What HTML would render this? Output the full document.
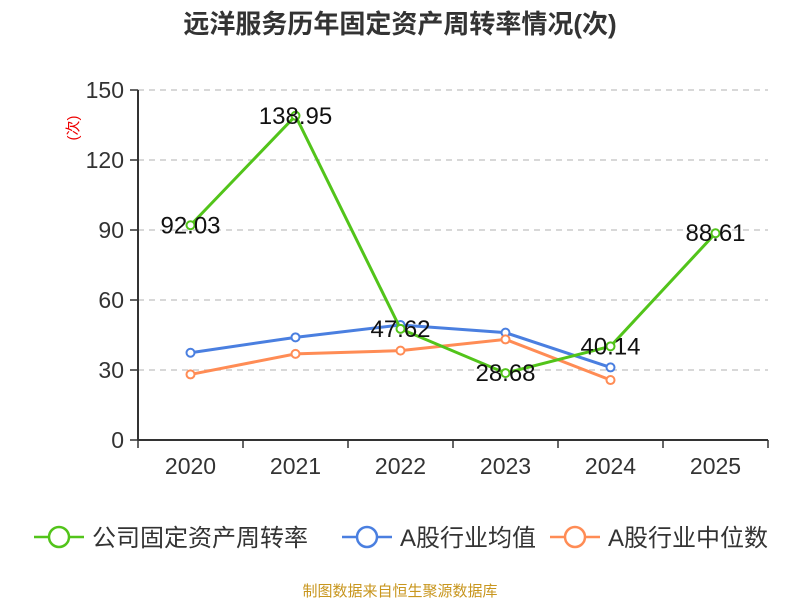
<!DOCTYPE html>
<html><head><meta charset="utf-8"><style>
body{margin:0;background:#fff;font-family:"Liberation Sans","Noto Sans CJK SC",sans-serif}
svg text{font-family:"Liberation Sans","Noto Sans CJK SC",sans-serif}
</style></head><body>
<svg id="c" width="800" height="600">
<text x="400" y="33" text-anchor="middle" font-size="26" font-weight="bold" fill="#333">远洋服务历年固定资产周转率情况(次)</text>
<text transform="translate(78,128) rotate(-90)" text-anchor="middle" font-size="15" fill="#e00">(次)</text>
<g id="grid"></g><g id="axes"></g><g id="series"></g>
<g id="legend"></g>
<text x="400" y="596" text-anchor="middle" font-size="15" fill="#c8961e">制图数据来自恒生聚源数据库</text>
</svg>
<script>
const categories=["2020","2021","2022","2023","2024","2025"];
const companyValues=[92.03,138.95,47.62,28.68,40.14,88.61];
const industryAvg=[37.4,44.0,49.3,46.0,31.1];
const industryMedian=[28.1,36.9,38.3,43.1,25.7];
const yTicks=[0,30,60,90,120,150];
const seriesNames=["公司固定资产周转率","A股行业均值","A股行业中位数"];
const colors=["#52c41a","#4a7fe0","#ff8c55"];
const NS="http://www.w3.org/2000/svg";
const x0=138,x1=768,y0=440,y1=90,bw=(x1-x0)/categories.length;
const X=i=>x0+bw*(i+0.5), Y=v=>y0-(v-0)/(150-0)*(y0-y1);
function mk(p,t,a){const e=document.createElementNS(NS,t);for(const k in a)e.setAttribute(k,a[k]);p.appendChild(e);return e;}
const grid=document.getElementById('grid'),axes=document.getElementById('axes'),ser=document.getElementById('series'),leg=document.getElementById('legend');
yTicks.forEach(v=>{
 if(v>0){const l=mk(grid,'line',{x1:x0,x2:x1,y1:Y(v),y2:Y(v),stroke:'#ccc','stroke-dasharray':'6,5','stroke-width':1.5});
 
 }
 const t=mk(axes,'text',{x:x0-14,y:Y(v)+8,'text-anchor':'end','font-size':23,fill:'#333'});t.textContent=v;
 
 
 const tk=mk(axes,'line',{x1:x0-8,x2:x0,y1:Y(v),y2:Y(v),stroke:'#333','stroke-width':1.5});
 
 
});
const ya=mk(axes,'line',{x1:x0,x2:x0,y1:y1,y2:y0,stroke:'#333','stroke-width':2});


const xa=mk(axes,'line',{x1:x0,x2:x1,y1:y0,y2:y0,stroke:'#333','stroke-width':2});


for(let i=0;i<=categories.length;i++){const tk=mk(axes,'line',{x1:x0+bw*i,x2:x0+bw*i,y1:y0,y2:y0+8,stroke:'#333','stroke-width':1.5});
 
 }
categories.forEach((c,i)=>{const t=mk(axes,'text',{x:X(i),y:y0+34,'text-anchor':'middle','font-size':23,fill:'#333'});t.textContent=c;
 
 });
function draw(vals,col,name,labels){
 const g=mk(ser,'g',{});
 
 
 const pl=mk(g,'polyline',{points:vals.map((v,i)=>X(i)+','+Y(v)).join(' '),fill:'none',stroke:col,'stroke-width':3});
 
 
 vals.forEach((v,i)=>{const c=mk(g,'circle',{cx:X(i),cy:Y(v),r:4,fill:'#fff',stroke:col,'stroke-width':2});
  
  
  if(labels){const t=mk(g,'text',{x:X(i),y:Y(v)+8,'text-anchor':'middle','font-size':24,fill:'#111'});t.textContent=v.toFixed(2);
  
  }});
}
draw(industryAvg,colors[1],'industry-average-series',false);
draw(industryMedian,colors[2],'industry-median-series',false);
draw(companyValues,colors[0],'company-series',true);
const lx=[34,342,550];
seriesNames.forEach((n,i)=>{
 const g=mk(leg,'g',{});
 
 
 mk(g,'line',{x1:lx[i],x2:lx[i]+50,y1:537,y2:537,stroke:colors[i],'stroke-width':2.5});
 mk(g,'circle',{cx:lx[i]+25,cy:537,r:10,fill:'#fff',stroke:colors[i],'stroke-width':2.5});
 const t=mk(g,'text',{x:lx[i]+58,y:546,'font-size':24,fill:'#333'});t.textContent=n;
});
</script>
</body></html>
